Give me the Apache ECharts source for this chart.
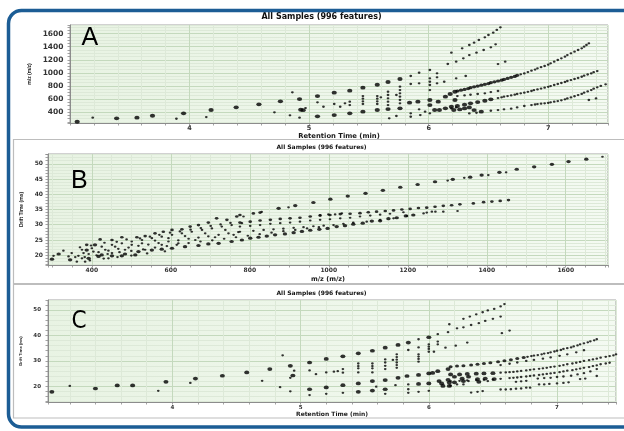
<!DOCTYPE html>
<html>
<head>
<meta charset="utf-8">
<script src="https://cdn.jsdelivr.net/npm/echarts@6.0.0/dist/echarts.min.js"></script>
<style>
  html, body { margin: 0; padding: 0; background: #ffffff; }
  #chart { width: 624px; height: 431px; }
</style>
</head>
<body>
<div id="chart"></div>
<script>
// ---- Panel A: retention time (min) vs m/z ----
const mzVsRtLarge = [
  [3.06,251],[3.39,303],[3.56,313],[3.69,343],[3.95,380],[4.18,431],[4.39,472],[4.58,518],
  [4.76,564],[4.92,599],[4.93,435],[4.95,428],[5.07,645],[5.07,334],[5.21,696],[5.21,354],
  [5.34,727],[5.34,380],[5.45,773],[5.45,405],[5.57,818],[5.57,431],[5.66,860],[5.66,446],
  [5.76,906],[5.76,457],[5.84,543],[5.91,558],[6.01,584],[6.01,507],[6.05,431],[6.08,558],
  [6.09,431],[6.14,635],[6.14,457],[6.18,676],[6.19,481],[6.22,711],[6.22,584],[6.21,431],
  [6.26,440],[6.30,456],[6.34,471],[6.38,430],[6.44,405],[6.24,492],[6.30,512],[6.35,533],
  [6.41,553],[6.47,573],[6.52,594]
];
const mzVsRtMedium = [
  [6.24,722],[6.27,735],[6.30,747],[6.33,760],[6.35,773],[6.38,786],[6.41,798],[6.44,811],
  [6.47,824],[6.50,836],[6.52,849],[6.55,862],[6.58,875],[6.61,888],[6.63,900],[6.66,915],
  [6.69,931],[6.72,946],[6.74,962]
];
const mzVsRtSmall = [
  [3.19,313],[3.89,297],[4.14,323],[4.71,395],[4.84,349],[4.86,702],[4.92,313],[4.97,460],
  [5.07,549],[5.12,481],[5.21,523],[5.26,481],[5.30,533],[5.34,558],[5.34,507],[5.45,645],
  [5.45,604],[5.45,564],[5.45,523],[5.57,645],[5.57,604],[5.57,564],[5.57,523],[5.60,625],
  [5.66,711],[5.66,661],[5.66,610],[5.66,558],[5.66,507],[5.67,303],[5.73,661],[5.73,339],
  [5.76,788],[5.76,737],[5.76,687],[5.76,635],[5.76,584],[5.76,533],[5.85,952],[5.85,829],
  [5.85,380],[5.85,328],[5.92,1002],[5.92,840],[5.92,441],[5.93,354],[5.97,405],[6.01,1044],
  [6.01,916],[6.01,864],[6.01,814],[6.01,737],[6.01,380],[6.07,993],[6.07,932],[6.07,840],
  [6.13,864],[6.16,1136],[6.19,1309],[6.23,1171],
  [6.28,1376],[6.34,1427],[6.38,1463],[6.42,1503],[6.47,1544],[6.50,1580],[6.54,1616],[6.57,1657],[6.60,1698],
  [6.29,1222],[6.34,1273],[6.40,1309],[6.46,1350],[6.52,1391],[6.56,1437],
  [6.58,1135],[6.64,1171],[6.23,916],[6.31,952],
  [6.77,977],[6.80,992],[6.83,1012],[6.86,1033],[6.89,1051],[6.91,1069],[6.94,1087],[6.97,1105],
  [7.00,1125],[7.02,1146],[7.05,1171],[7.08,1197],[7.11,1222],[7.14,1248],[7.16,1273],[7.19,1299],
  [7.22,1325],[7.25,1350],[7.28,1376],[7.30,1401],[7.32,1427],[7.34,1452],
  [6.24,645],[6.30,655],[6.35,665],[6.41,676],[6.47,686],[6.52,706],[6.58,722],
  [6.58,614],[6.61,625],[6.63,635],[6.66,645],[6.69,655],[6.72,666],[6.74,676],[6.77,686],
  [6.80,696],[6.83,709],[6.86,722],[6.88,735],[6.91,747],[6.94,760],[6.97,773],[7.00,786],
  [7.02,798],[7.05,814],[7.08,829],[7.11,845],[7.14,860],[7.16,875],[7.19,890],[7.22,906],
  [7.25,921],[7.28,940],[7.30,957],[7.33,975],[7.36,992],[7.38,1010],[7.41,1028],
  [6.52,420],[6.58,430],[6.63,441],[6.69,451],[6.74,471],[6.80,492],[6.86,507],[6.89,515],
  [6.91,522],[6.94,528],[6.97,533],[7.00,540],[7.02,548],[7.05,558],[7.08,568],[7.11,580],
  [7.14,594],[7.16,608],[7.19,624],[7.22,642],[7.25,660],[7.28,678],[7.30,696],[7.33,716],
  [7.36,737],[7.38,757],[7.41,778],[7.44,800],[7.48,824],
  [7.34,584],[7.40,609],[6.34,379],[6.40,389],[6.23,471],[6.19,456]
];
const rtTicks = [4, 5, 6, 7];
const mzTicksA = [400, 600, 800, 1000, 1200, 1400, 1600];

// ---- Panel B: m/z vs drift time (ms) ----
const driftVsMzLarge = [
  [392,19.0],[417,19.6],[451,19.8],[484,20.4],[518,21.2],[552,21.7],[577,22.0],[603,22.3],
  [636,22.8],[670,23.2],[695,23.7],[721,23.9],[754,24.5],[780,25.0],
  [801,25.6],[822,25.9],[843,26.3],[864,26.7],[889,27.0],[911,27.4],[932,27.8],[953,28.2],
  [976,28.5],[997,28.8],[1020,29.4],[1041,29.7],[1062,30.2],[1086,30.5],[1109,31.2],[1130,31.3],
  [1151,32.0],[1172,32.3],[1195,32.9],[1214,33.2],
  [873,35.4],[915,36.3],[961,37.3],[1004,38.4],[1048,39.4],[1093,40.3],[1137,41.3],[1181,42.3],
  [1225,43.2],[1269,44.1],[1314,44.9],[1358,45.6],[1387,46.3],[1432,47.2],[1476,48.2],
  [1520,49.0],[1565,49.8],[1607,50.7],[1652,51.5],
  [299,18.7],[316,20.4],[345,18.5],[387,21.7],[408,23.4],[425,20.1],[476,19.8],[510,20.1]
];
const driftVsMzMedium = [
  [775,30.7],[801,31.0],[826,31.4],[852,31.6],[877,31.9],[902,32.1],[927,32.3],[953,32.7],
  [978,33.0],[1003,33.2],[1029,33.5],[1054,33.6],[1079,33.8],[1100,34.1],[1121,34.3],[1143,34.5],
  [1164,34.7],[1185,35.0],[1206,35.2],[1227,35.5],[1248,35.6],[1269,35.9],[1290,36.2],[1311,36.4],
  [1332,36.7],[1366,37.0],[1392,37.4],[1413,37.6],[1434,37.8],[1455,38.1],
  [775,33.2],[809,33.7],[826,34.0],
  [387,23.4],[421,25.2],[451,25.0],[476,25.9],[514,25.9],[535,26.3],[560,27.2],[581,27.7],
  [603,28.3],[628,28.5],[649,29.4],[670,29.9],[695,30.7],[716,32.1],[742,31.6],[767,32.7]
];
const driftVsMzSmall = [
  [898,35.7],[1301,44.5],[1343,45.4],[1404,46.3],[1449,47.2],[1693,52.3],
  [784,32.7],[830,34.2],[978,33.2],[999,33.4],[1016,33.4],[1033,33.7],
  [349,20.7],[375,21.8],[400,22.3],[425,22.8],[451,23.4],[476,23.9],[501,24.5],[527,25.0],
  [552,25.6],[577,26.1],[603,26.7],[628,27.2],[653,27.7],[679,28.3],[704,28.8],[729,29.4],
  [754,29.9],[780,30.5],
  [366,19.8],[392,20.4],[417,21.0],[442,21.5],[467,22.1],[493,22.5],[518,23.1],[543,23.5],
  [569,24.0],[594,24.5],[619,24.9],[645,25.4],[670,25.8],[695,26.2],[721,26.7],[746,27.2],[771,27.6],
  [775,29.4],[801,29.6],[826,29.9],[852,30.3],[877,30.5],[902,30.7],[927,31.0],[953,31.4],
  [978,31.6],[1003,31.8],[1029,32.1],[1054,32.3],[1079,32.7],[1105,33.0],[1130,33.3],[1155,33.6],
  [1189,34.1],[1248,34.0],[1270,34.3],[1290,34.3],[1326,34.5],
  [775,27.7],[809,28.0],[835,28.3],[860,28.5],[885,28.7],[911,29.0],[936,29.2],[961,29.5],
  [987,29.7],[1012,29.9],[1037,30.3],[1062,30.7],[1096,31.0],[1130,31.6],[1164,32.1],[1198,32.9],
  [1240,33.7],[1261,34.3],
  [303,19.8],[328,21.5],[341,19.6],[358,19.4],[362,17.9],[375,19.0],[379,20.7],[383,17.9],
  [404,21.2],[434,21.8],[442,19.0],[451,20.7],[459,22.8],[484,21.8],[501,23.4],[527,23.9],
  [535,21.8],[560,24.8],[577,23.4],[594,25.6],[619,23.9],[636,26.3],[662,25.0],[687,27.2],
  [712,25.9],[738,28.3],[759,26.7],
  [370,22.6],[398,23.2],[432,24.1],[463,24.4],[488,25.2],[522,25.5],[547,26.1],[571,26.7],
  [598,27.4],[623,27.8],[650,28.4],[676,28.9],[701,29.6],[726,30.1],[751,30.6],
  [382,19.4],[412,20.0],[440,20.4],[470,21.0],[500,21.4],[530,21.9],[560,22.5],[590,23.0],
  [615,23.4],[645,24.0],[675,24.5],[705,24.9],[735,25.4],[765,25.9],[795,26.4],[825,26.9],
  [855,27.4],[885,27.9],[915,28.3],[945,28.8],[975,29.2],
  [395,18.3],[430,18.9],[465,19.4],[500,19.9],[540,20.6],[585,21.3]
];
const mzTicksB = [400, 600, 800, 1000, 1200, 1400, 1600];
const driftTicksB = [20, 25, 30, 35, 40, 45, 50];

// ---- Panel C: retention time (min) vs drift time (ms) ----
const driftVsRtLarge = [
  [3.06,17.9],[3.40,19.2],[3.57,20.4],[3.69,20.4],[3.95,21.8],[4.18,23.1],[4.39,24.2],[4.58,25.5],
  [4.76,26.8],[4.92,28.1],[4.94,24.3],[5.07,29.4],[5.07,18.9],[5.20,30.8],[5.20,19.6],[5.33,31.8],
  [5.33,20.5],[5.45,33.0],[5.45,21.2],[5.45,17.9],[5.56,34.0],[5.56,22.1],[5.56,18.4],[5.66,35.2],
  [5.66,22.5],[5.66,18.9],[5.76,36.3],[5.76,23.4],[5.83,24.1],[5.84,37.2],[5.92,24.5],[5.92,21.0],
  [6.00,39.3],[6.00,25.1],[6.03,25.3],[6.00,21.2],[6.07,26.0],[6.08,22.1],[6.10,21.2],[6.11,20.2],
  [6.15,26.8],[6.15,22.6],[6.16,21.5],[6.16,20.2],
  [6.17,24.7],[6.24,24.7],[6.30,24.9],[6.37,25.0],[6.43,25.1],[6.50,25.2],
  [6.20,23.8],[6.26,23.1],[6.31,23.8],[6.38,22.9],[6.44,23.1],[6.51,22.9],[6.20,21.6],[6.27,22.1],[6.39,21.8]
];
const driftVsRtMedium = [
  [6.17,27.7],[6.22,28.0],[6.27,28.1],[6.33,28.4],[6.38,28.7],[6.43,29.0],[6.48,29.3],[6.54,29.7],
  [6.59,30.1],[6.64,30.5],[6.69,31.0],[6.74,31.4]
];
const driftVsRtSmall = [
  [3.20,20.2],[3.89,18.3],[4.14,21.4],[4.70,22.2],[4.84,19.7],[4.86,32.2],[4.92,18.1],[4.92,23.4],
  [4.95,26.2],[5.07,26.3],[5.07,16.6],[5.12,24.8],[5.20,25.5],[5.20,17.1],[5.26,25.8],[5.29,26.0],
  [5.33,26.8],[5.33,25.4],[5.33,17.5],[5.45,29.0],[5.45,28.0],[5.45,27.1],[5.45,25.5],[5.56,29.0],
  [5.56,28.0],[5.56,27.1],[5.56,25.5],[5.59,19.9],[5.66,30.6],[5.66,29.4],[5.66,28.1],[5.66,26.8],
  [5.66,17.1],[5.72,30.4],[5.75,32.6],[5.75,31.5],[5.75,30.5],[5.75,29.4],[5.75,28.4],[5.75,27.3],
  [5.74,20.5],[5.84,34.3],[5.84,20.8],[5.84,18.9],[5.84,17.5],[5.92,38.5],[5.92,35.3],[5.92,32.6],
  [5.92,31.7],[5.92,30.8],[5.92,29.7],[5.92,17.9],[6.00,36.5],[6.00,35.6],[6.00,34.7],[6.00,33.6],
  [6.00,18.3],[6.04,33.6],[6.07,40.5],[6.07,37.6],[6.07,36.5],[6.13,35.2],[6.15,41.3],[6.16,44.4],
  [6.27,46.5],[6.32,47.4],[6.37,48.3],[6.42,49.1],[6.46,49.8],[6.51,50.4],[6.56,51.4],[6.59,52.3],
  [6.22,42.8],[6.27,43.2],[6.33,44.1],[6.39,44.8],[6.44,45.7],[6.50,46.5],[6.56,47.4],
  [6.57,40.9],[6.63,41.9],[6.21,36.0],[6.30,37.2],
  [6.77,31.6],[6.80,31.9],[6.82,32.1],[6.85,32.3],[6.88,32.6],[6.90,32.9],[6.93,33.1],[6.95,33.4],
  [6.98,33.7],[7.00,34.0],[7.03,34.3],[7.05,34.7],[7.08,35.0],[7.11,35.3],[7.13,35.7],[7.16,36.1],
  [7.18,36.5],[7.21,36.9],[7.24,37.3],[7.26,37.7],[7.29,38.1],[7.31,38.5],
  [6.56,28.4],[6.63,28.9],[6.69,29.4],[6.76,30.0],[6.82,30.4],[6.89,30.9],[6.95,31.4],[7.02,32.0],
  [7.08,32.6],[7.15,33.4],[7.21,34.2],
  [6.56,25.4],[6.60,25.5],[6.63,25.6],[6.66,25.7],[6.69,25.9],[6.72,26.1],[6.76,26.3],[6.79,26.5],
  [6.82,26.7],[6.86,26.9],[6.89,27.1],[6.92,27.3],[6.95,27.6],[6.98,27.8],[7.02,28.1],[7.05,28.4],
  [7.08,28.7],[7.12,29.0],[7.15,29.3],[7.18,29.6],[7.21,30.0],[7.25,30.3],[7.28,30.6],[7.31,30.9],
  [7.34,31.3],[7.38,31.6],[7.41,31.9],[7.44,32.2],[7.46,32.6],
  [6.17,22.1],[6.24,22.2],[6.30,22.4],[6.37,22.5],[6.43,22.6],[6.50,22.7],[6.56,23.0],[6.63,23.3],
  [6.66,23.4],[6.69,23.5],[6.72,23.7],[6.76,23.9],[6.79,24.1],[6.82,24.3],[6.86,24.5],[6.89,24.7],
  [6.92,24.9],[6.95,25.1],[6.98,25.3],[7.02,25.6],[7.05,25.9],[7.08,26.2],[7.12,26.4],[7.15,26.7],
  [7.18,27.0],[7.21,27.3],[7.25,27.6],[7.28,28.0],[7.31,28.3],[7.34,28.7],[7.38,29.0],[7.41,29.3],
  [6.85,23.1],[6.90,23.3],[6.95,23.4],[7.00,23.7],[7.05,23.9],[7.11,24.2],[7.16,24.7],[7.21,25.2],
  [7.26,25.9],[7.31,26.8],
  [6.33,17.6],[6.38,17.9],[6.42,18.2],[6.56,18.8],[6.60,18.8],[6.64,18.9],[6.68,19.1],[6.72,19.2],
  [6.76,19.5],[6.79,19.5],[6.68,21.8],[6.72,22.0],[6.76,22.2],[6.86,20.8],[6.90,20.8],[6.94,21.0],
  [7.00,21.2],[7.05,21.4],[7.09,21.6],[7.18,22.9],[7.22,23.1],[7.31,24.1],
  [6.22,20.8],[6.17,20.3],[6.27,20.8],[6.31,22.1],[6.46,22.1]
];
const driftTicksC = [20, 30, 40, 50];

const panelTitle = 'All Samples (996 features)';

// ---- styling helpers ----
const MAJOR = '#c4d9bd';
const MINOR = '#dde9d8';
function lineColors(pattern) {
  return pattern.split('').map(c => (c === 'M' ? MAJOR : MINOR));
}
function tickFormatter(ticks) {
  return function (v) {
    const t = ticks.find(t => Math.abs(t - v) < 1e-6);
    return t === undefined ? '' : String(t);
  };
}
const plotFill = {
  type: 'linear', x: 0, y: 0, x2: 1, y2: 1,
  colorStops: [{ offset: 0, color: '#e8f3e3' }, { offset: 1, color: '#f4faf2' }]
};

function axis(o) {
  return {
    type: 'value',
    gridIndex: o.grid,
    min: o.min, max: o.max,
    minInterval: o.step, maxInterval: o.step,
    name: o.name,
    nameLocation: 'middle',
    nameGap: o.nameGap,
    nameTextStyle: {
      fontFamily: o.nameFont || 'DejaVu Sans', fontWeight: 'bold',
      fontSize: o.nameSize, color: '#1a1a1a'
    },
    axisLine: { show: true, onZero: false, lineStyle: { color: '#8c8c8c', width: 1 } },
    axisTick: { show: true, length: 2.5, lineStyle: { color: '#8c8c8c', width: 0.8 } },
    axisLabel: {
      margin: o.margin, fontSize: o.labelSize, fontFamily: 'DejaVu Sans',
      fontWeight: 'bold', color: '#333', formatter: tickFormatter(o.ticks)
    },
    splitLine: { show: true, lineStyle: { color: lineColors(o.pattern), width: 1 } }
  };
}

function dots(data, xi, size) {
  return {
    type: 'scatter', xAxisIndex: xi, yAxisIndex: xi, data: data,
    symbol: 'circle', symbolSize: size, silent: true,
    itemStyle: { color: '#000000' }
  };
}

function gridBox(left, top, right, bottom) {
  return {
    left: left, top: top, width: right - left, height: bottom - top,
    show: true, backgroundColor: plotFill, borderColor: '#a3a3a3', borderWidth: 1
  };
}

const chart = echarts.init(document.getElementById('chart'), null, { renderer: 'canvas' });

chart.setOption({
  animation: false,
  backgroundColor: '#ffffff',
  grid: [
    gridBox(70, 25, 608, 123),
    gridBox(48, 154, 608, 265),
    gridBox(48, 300, 616, 402)
  ],
  xAxis: [
    axis({ grid: 0, min: 3, max: 7.5, step: 0.2, pattern: 'Mmmmm', ticks: rtTicks,
           name: 'Retention Time (min)', nameGap: 7.5, nameSize: 6.8, labelSize: 6.5, margin: 2 }),
    axis({ grid: 1, min: 289, max: 1707, step: 50, pattern: 'mmmM', ticks: mzTicksB,
           name: 'm/z (m/z)', nameGap: 10.5, nameSize: 6.5, labelSize: 6, margin: 2 }),
    axis({ grid: 2, min: 3.03, max: 7.46, step: 0.2, pattern: 'Mmmmm', ticks: rtTicks,
           name: 'Retention Time (min)', nameGap: 9, nameSize: 6, labelSize: 5.5, margin: 2.5 })
  ],
  yAxis: [
    axis({ grid: 0, min: 232, max: 1733, step: 50, pattern: 'Mmmm', ticks: mzTicksA,
           name: 'm/z (m/z)', nameGap: 37, nameSize: 5, nameFont: 'Liberation Sans',
           labelSize: 7.5, margin: 6.5 }),
    axis({ grid: 1, min: 16.8, max: 53.2, step: 1, pattern: 'mmmmM', ticks: driftTicksB,
           name: 'Drift Time (ms)', nameGap: 20, nameSize: 5, nameFont: 'Liberation Sans',
           labelSize: 6, margin: 5 }),
    axis({ grid: 2, min: 13.9, max: 53.9, step: 2, pattern: 'mmmmM', ticks: driftTicksC,
           name: 'Drift Time (ms)', nameGap: 20, nameSize: 4.2, nameFont: 'Liberation Sans',
           labelSize: 5.5, margin: 7 })
  ],
  series: [
    dots(mzVsRtSmall, 0, [2.8, 2.3]),
    dots(mzVsRtMedium, 0, [4.2, 3.2]),
    dots(mzVsRtLarge, 0, [5.2, 3.8]),
    dots(driftVsMzSmall, 1, [2.7, 2.2]),
    dots(driftVsMzMedium, 1, [3.6, 2.7]),
    dots(driftVsMzLarge, 1, [4.4, 3.2]),
    dots(driftVsRtSmall, 2, [2.7, 2.3]),
    dots(driftVsRtMedium, 2, [4, 3]),
    dots(driftVsRtLarge, 2, [5, 3.7])
  ],
  graphic: [
    // panel frames
    { type: 'rect', silent: true, z: 0,
      shape: { x: 13.5, y: 139.5, width: 640, height: 144 },
      style: { fill: null, stroke: '#bdbdbd', lineWidth: 1.2 } },
    { type: 'rect', silent: true, z: 0,
      shape: { x: 13.5, y: 284.5, width: 640, height: 133.5 },
      style: { fill: null, stroke: '#bdbdbd', lineWidth: 1.2 } },
    // outer rounded border
    { type: 'rect', silent: true, z: 10,
      shape: { x: 8.5, y: 10.5, width: 660, height: 416.5, r: 13 },
      style: { fill: null, stroke: '#1c5d95', lineWidth: 3.5 } },
    // panel titles
    { type: 'text', silent: true, x: 321.5, y: 17,
      style: { text: panelTitle, font: 'bold 8px "DejaVu Sans"', fill: '#111',
               align: 'center', verticalAlign: 'middle' } },
    { type: 'text', silent: true, x: 321.5, y: 147,
      style: { text: panelTitle, font: 'bold 6px "DejaVu Sans"', fill: '#111',
               align: 'center', verticalAlign: 'middle' } },
    { type: 'text', silent: true, x: 321.5, y: 293,
      style: { text: panelTitle, font: 'bold 6px "DejaVu Sans"', fill: '#111',
               align: 'center', verticalAlign: 'middle' } },
    // panel letters
    { type: 'text', silent: true, x: 81.5, y: 38.5, z: 5,
      style: { text: 'A', font: '25px "Liberation Sans"', fill: '#000',
               align: 'left', verticalAlign: 'middle' } },
    { type: 'text', silent: true, x: 71, y: 181, z: 5,
      style: { text: 'B', font: '25px "Liberation Sans"', fill: '#000',
               align: 'left', verticalAlign: 'middle' } },
    { type: 'text', silent: true, x: 71.5, y: 321.5, z: 5,
      style: { text: 'C', font: '24px "Liberation Sans Narrow", "DejaVu Sans Condensed", "Liberation Sans"',
               fill: '#000', align: 'left', verticalAlign: 'middle' } }
  ]
});
</script>
</body>
</html>
